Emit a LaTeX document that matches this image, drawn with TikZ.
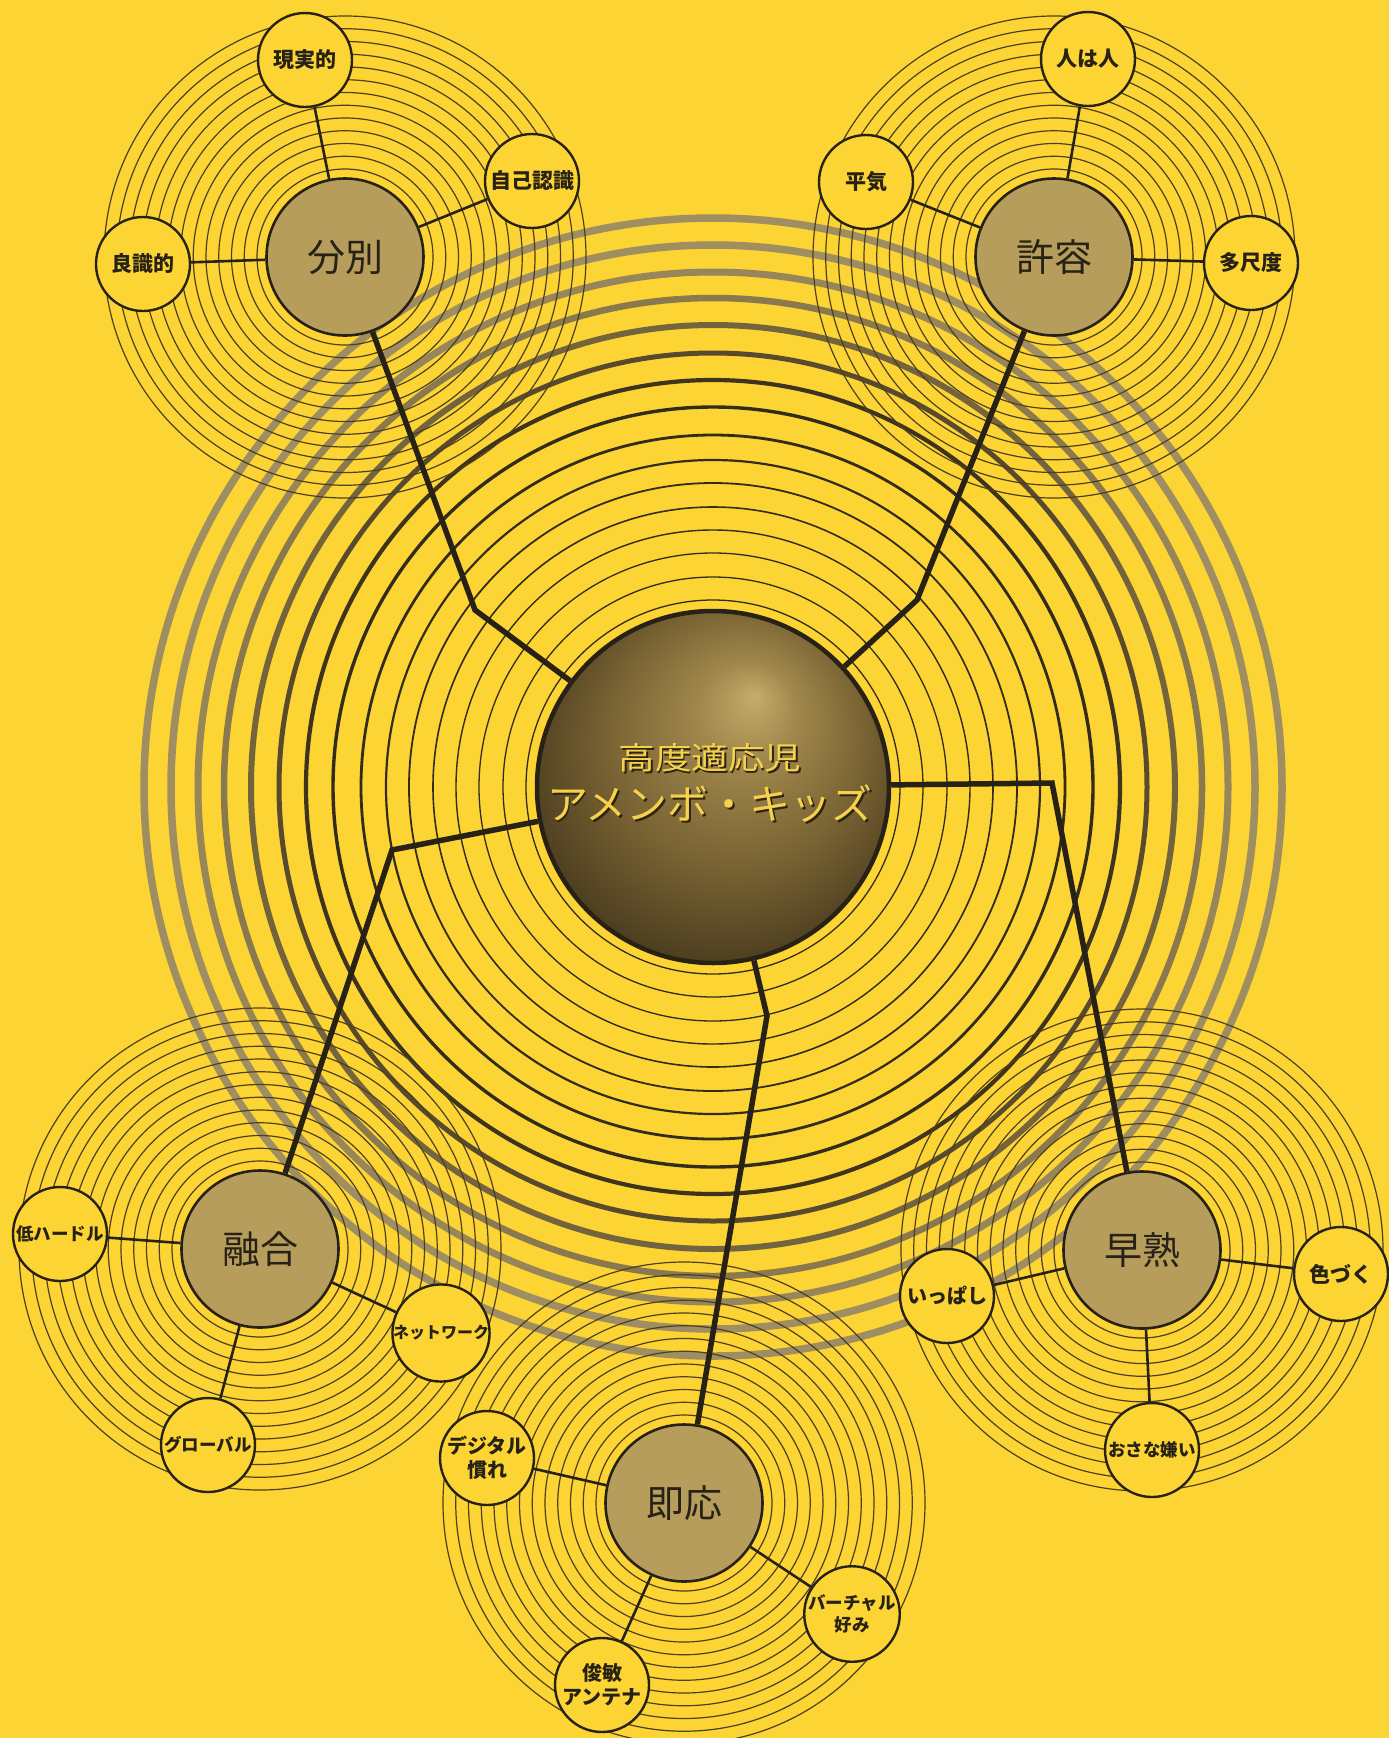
\documentclass[tikz,border=0pt]{standalone}
\usepackage{graphicx}
\usepackage{fontspec}
\newfontfamily\jp{Noto Sans CJK JP}
\definecolor{bgy}{RGB}{252,212,52}
\definecolor{ink}{RGB}{40,34,22}
\definecolor{ringc}{RGB}{78,64,30}
\definecolor{satfill}{RGB}{182,157,92}
\definecolor{goldtxt}{RGB}{246,210,76}
\definecolor{goldsh}{RGB}{45,36,18}
\definecolor{gA}{RGB}{158,142,98}
\definecolor{gB}{RGB}{150,134,90}
\definecolor{gC}{RGB}{138,121,78}
\definecolor{gD}{RGB}{116,100,62}
\definecolor{gE}{RGB}{88,74,44}
\definecolor{gF}{RGB}{62,52,30}
\definecolor{gG}{RGB}{52,44,26}
\definecolor{ballA}{RGB}{196,172,108}
\definecolor{ballB}{RGB}{160,135,75}
\definecolor{ballC}{RGB}{122,100,52}
\definecolor{ballD}{RGB}{72,58,29}
\definecolor{ballE}{RGB}{40,32,16}
\pgfdeclareradialshading{ballshade}{\pgfpoint{6bp}{13bp}}{color(0bp)=(ballA);color(7bp)=(ballB);color(18bp)=(ballC);color(30bp)=(ballD);color(40bp)=(ballE)}
\begin{document}
\begin{tikzpicture}[x=1pt,y=-1pt,
  satnode/.style={circle,draw=ink,line width=2.6pt,fill=satfill,minimum size=157pt,inner sep=0pt,text=ink,font=\jp\fontsize{38}{40}\selectfont},
  leaf/.style={circle,draw=ink,line width=2.4pt,fill=bgy,minimum size=94pt,inner sep=0pt,text=ink,align=center},
  fa/.style={font=\jp\bfseries\fontsize{21}{25}\selectfont},
  fb/.style={font=\jp\bfseries\fontsize{20}{24}\selectfont},
  fc/.style={font=\jp\bfseries\fontsize{17.5}{22}\selectfont},
  fd/.style={font=\jp\bfseries\fontsize{16}{20}\selectfont},
  mainconn/.style={draw=ink,line width=5.5pt},
  subconn/.style={draw=ink,line width=2.6pt},
  satring/.style={draw=ringc,line width=1.2pt}]
\useasboundingbox (0,0) rectangle (1389,1738);
\clip (0,0) rectangle (1389,1738);
\fill[bgy] (0,0) rectangle (1389,1738);
% centres
\coordinate (pC) at (713,787);
\coordinate (pF) at (345,257);
\coordinate (pK) at (1054,257);
\coordinate (pY) at (260,1249);
\coordinate (pS) at (1142,1250);
\coordinate (pJ) at (684,1503);
% big rings
\foreach \r/\w/\c in {569/7.5/gA,542/7.5/gA,515/7/gB,489/6.5/gC,462/6/gD,434/5/gE,407/4.2/gF,380/3.4/gG,352/2.8/gG,327/2.2/gG,304/1.8/gG,280/1.6/gG,257/1.4/gG,234/1.3/gG,210/1.3/gG,187/1.3/gG}
  \draw[line width=\w pt,draw=\c] (pC) circle[radius=\r];
% satellite rings
\foreach \p in {pF,pK,pY,pS,pJ}
  \foreach \k in {0,...,12}
    \draw[satring] (\p) circle[radius={88+12.75*\k}];
% central node
\node[circle,minimum size=352pt,inner sep=0pt,draw=ink,line width=4.5pt,shade,shading=ballshade] (C) at (pC) {};
% satellite nodes
\node[satnode] (F) at (pF) {分別};
\node[satnode] (K) at (pK) {許容};
\node[satnode] (Y) at (pY) {融合};
\node[satnode] (S) at (pS) {早熟};
\node[satnode] (J) at (pJ) {即応};
% leaves
\node[leaf,fa] (f1) at (305,60) {現実的};
\node[leaf,fa] (f2) at (532,181) {自己認識};
\node[leaf,fa] (f3) at (143,264) {良識的};
\node[leaf,fa] (k1) at (1088,59) {人は人};
\node[leaf,fa] (k2) at (866,182) {平気};
\node[leaf,fa] (k3) at (1251,263) {多尺度};
\node[leaf,fc] (y1) at (60,1234) {低ハードル};
\node[leaf,fd] (y2) at (441,1333) {ネットワーク};
\node[leaf,fc] (y3) at (208,1445) {グローバル};
\node[leaf,fb] (s1) at (947,1296) {いっぱし};
\node[leaf,fa] (s2) at (1341,1274) {色づく};
\node[leaf,fc] (s3) at (1152,1450) {おさな嫌い};
\node[leaf,fb] (j1) at (487,1458) {デジタル\\慣れ};
\node[leaf,fc] (j2) at (852,1614) {バーチャル\\好み};
\node[leaf,fb] (j3) at (602,1685) {俊敏\\アンテナ};
% bends
\coordinate (b1) at (475,610);
\coordinate (b2) at (917,600);
\coordinate (b3) at (392,850);
\coordinate (b4) at (1052,783);
\coordinate (b5) at (767,1016);
% main connectors
\draw[mainconn] (F) -- (b1) -- (C);
\draw[mainconn] (K) -- (b2) -- (C);
\draw[mainconn] (Y) -- (b3) -- (C);
\draw[mainconn] (S) -- (b4) -- (C);
\draw[mainconn] (J) -- (b5) -- (C);
% sub connectors
\draw[subconn] (F) -- (f1);
\draw[subconn] (F) -- (f2);
\draw[subconn] (F) -- (f3);
\draw[subconn] (K) -- (k1);
\draw[subconn] (K) -- (k2);
\draw[subconn] (K) -- (k3);
\draw[subconn] (Y) -- (y1);
\draw[subconn] (Y) -- (y2);
\draw[subconn] (Y) -- (y3);
\draw[subconn] (S) -- (s1);
\draw[subconn] (S) -- (s2);
\draw[subconn] (S) -- (s3);
\draw[subconn] (J) -- (j1);
\draw[subconn] (J) -- (j2);
\draw[subconn] (J) -- (j3);
% central text
\node[font=\jp\fontsize{31}{31}\selectfont,text=goldsh] (t1s) at (711.5,759.5) {\scalebox{1.18}[1]{高度適応児}};
\node[font=\jp\fontsize{31}{31}\selectfont,text=goldtxt] (t1) at (710,758) {\scalebox{1.18}[1]{高度適応児}};
\node[font=\jp\fontsize{41}{41}\selectfont,text=goldsh] (t2s) at (711.5,805.5) {アメンボ・キッズ};
\node[font=\jp\fontsize{41}{41}\selectfont,text=goldtxt] (t2) at (710,804) {アメンボ・キッズ};
\end{tikzpicture}
\end{document}
